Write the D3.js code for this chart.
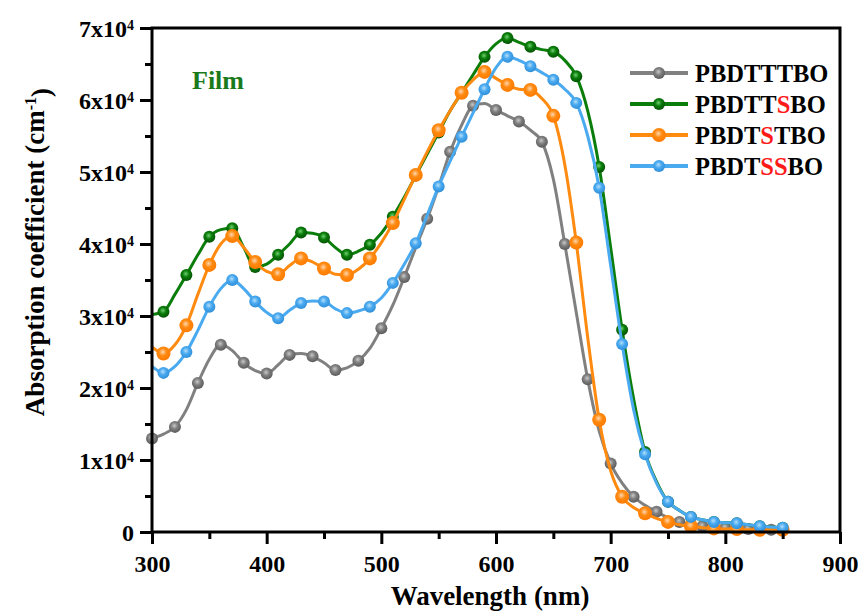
<!DOCTYPE html>
<html>
<head>
<meta charset="utf-8">
<script src="https://cdn.jsdelivr.net/npm/d3@7"></script>
<style>
  body { margin: 0; background: #fff; }
  svg text { font-family: "Liberation Serif", "Times New Roman", serif; font-weight: bold; }
</style>
</head>
<body>
<div id="chart"></div>
<script>
// Absorption spectra of films, values in units of 1e4 cm^-1, every 10 nm
const wavelengths = d3.range(300, 851, 10);

const PBDTTTBO = [1.30, 1.36, 1.46, 1.70, 2.07, 2.40, 2.60, 2.52, 2.35, 2.24,
  2.20, 2.32, 2.46, 2.48, 2.44, 2.35, 2.25, 2.28, 2.38, 2.55,
  2.83, 3.15, 3.54, 3.95, 4.35, 4.80, 5.28, 5.65, 5.92, 5.95,
  5.86, 5.78, 5.70, 5.58, 5.42, 4.90, 4.00, 3.05, 2.12, 1.40,
  0.95, 0.68, 0.49, 0.37, 0.28, 0.20, 0.14, 0.10, 0.08, 0.07,
  0.06, 0.05, 0.04, 0.04, 0.03, 0.03];

const PBDTTSBO = [3.02, 3.06, 3.30, 3.57, 3.85, 4.10, 4.20, 4.22, 3.95, 3.68,
  3.72, 3.85, 4.00, 4.16, 4.15, 4.09, 3.95, 3.85, 3.90, 3.99,
  4.15, 4.38, 4.65, 4.95, 5.25, 5.55, 5.85, 6.10, 6.35, 6.60,
  6.78, 6.86, 6.80, 6.74, 6.70, 6.67, 6.55, 6.33, 5.85, 5.07,
  3.95, 2.81, 1.85, 1.11, 0.70, 0.42, 0.30, 0.21, 0.17, 0.14,
  0.13, 0.12, 0.10, 0.08, 0.07, 0.06];

const PBDTSTBO = [2.57, 2.48, 2.60, 2.87, 3.30, 3.71, 4.00, 4.11, 3.95, 3.75,
  3.62, 3.58, 3.70, 3.80, 3.75, 3.66, 3.58, 3.57, 3.65, 3.80,
  4.02, 4.29, 4.62, 4.96, 5.28, 5.58, 5.85, 6.10, 6.28, 6.39,
  6.30, 6.21, 6.15, 6.14, 6.02, 5.78, 5.10, 4.02, 2.70, 1.56,
  0.85, 0.49, 0.34, 0.26, 0.19, 0.14, 0.10, 0.08, 0.06, 0.05,
  0.04, 0.04, 0.03, 0.03, 0.03, 0.03];

const PBDTSSBO = [2.30, 2.21, 2.30, 2.50, 2.80, 3.13, 3.38, 3.50, 3.38, 3.20,
  3.05, 2.97, 3.08, 3.18, 3.21, 3.20, 3.10, 3.04, 3.07, 3.13,
  3.25, 3.46, 3.72, 4.01, 4.40, 4.80, 5.15, 5.49, 5.82, 6.15,
  6.45, 6.60, 6.55, 6.47, 6.38, 6.28, 6.15, 5.96, 5.50, 4.78,
  3.70, 2.61, 1.70, 1.08, 0.68, 0.42, 0.30, 0.21, 0.17, 0.14,
  0.13, 0.12, 0.10, 0.08, 0.07, 0.06];

// legend label parts: [text, highlighted]
const series = [
  { name: "PBDTTTBO", values: PBDTTTBO, color: "#808080", dark: "#5a5a5a", light: "#c8c8c8", r: 6, offset: 0,
    label: [["PBDTTTBO", false]] },
  { name: "PBDTTSBO", values: PBDTTSBO, color: "#0a7d0a", dark: "#045204", light: "#6fcf6f", r: 6, offset: 1,
    label: [["PBDTT", false], ["S", true], ["BO", false]] },
  { name: "PBDTSTBO", values: PBDTSTBO, color: "#ff8a10", dark: "#ff7a00", light: "#ffd6b0", r: 7, offset: 1,
    label: [["PBDT", false], ["S", true], ["TBO", false]] },
  { name: "PBDTSSBO", values: PBDTSSBO, color: "#4aaaf0", dark: "#2f8ed8", light: "#b5def9", r: 6, offset: 1,
    label: [["PBDT", false], ["SS", true], ["BO", false]] }
];

const xTicks = [300, 400, 500, 600, 700, 800, 900];
const yTicks = [0, 1, 2, 3, 4, 5, 6, 7];

const W = 862, H = 612;
const margin = { top: 28, right: 22, bottom: 80, left: 152 };
const width = W - margin.left - margin.right;
const height = H - margin.top - margin.bottom;

const svg = d3.select("#chart").append("svg")
  .attr("width", W).attr("height", H);

const defs = svg.append("defs");
series.forEach((s, i) => {
  const g = defs.append("radialGradient").attr("id", "ball" + i)
    .attr("cx", "45%").attr("cy", "40%").attr("r", "60%");
  g.append("stop").attr("offset", "0%").attr("stop-color", s.light);
  g.append("stop").attr("offset", "45%").attr("stop-color", s.color);
  g.append("stop").attr("offset", "100%").attr("stop-color", s.dark);
});

const g = svg.append("g").attr("transform", `translate(${margin.left},${margin.top})`);

const x = d3.scaleLinear().domain([300, 900]).range([0, width]);
const y = d3.scaleLinear().domain([0, 7]).range([height, 0]);

// lines
const line = d3.line()
  .x((d, i) => x(wavelengths[i]))
  .y(d => y(d))
  .curve(d3.curveMonotoneX);

series.forEach((s, k) => {
  g.append("path")
    .datum(s.values)
    .attr("fill", "none")
    .attr("stroke", s.color)
    .attr("stroke-width", 3)
    .attr("d", line);
  g.append("g").selectAll("circle")
    .data(s.values.map((v, i) => [wavelengths[i], v]).filter((d, i) => i % 2 === s.offset))
    .join("circle")
    .attr("cx", d => x(d[0]))
    .attr("cy", d => y(d[1]))
    .attr("r", s.r)
    .attr("fill", `url(#ball${k})`);
});

// axes
const xMinor = d3.range(350, 900, 100);
const yMinor = d3.range(0.5, 7, 1);

const xAxis = g.append("g").attr("transform", `translate(0,${height})`)
  .call(d3.axisBottom(x).tickValues(xTicks).tickSize(12).tickFormat(d3.format("d")));
xAxis.select(".domain").remove();
xAxis.selectAll(".tick line").attr("stroke-width", 3);
xAxis.selectAll(".tick text").attr("font-size", 24).attr("fill", "#000").attr("dy", "1.05em")
  .attr("font-family", "Liberation Serif").attr("font-weight", "bold");

g.append("g").attr("transform", `translate(0,${height})`)
  .call(d3.axisBottom(x).tickValues(xMinor).tickSize(7).tickFormat(""))
  .call(a => a.select(".domain").remove())
  .selectAll(".tick line").attr("stroke-width", 3);

const yAxis = g.append("g")
  .call(d3.axisLeft(y).tickValues(yTicks).tickSize(12).tickFormat(""));
yAxis.select(".domain").remove();
yAxis.selectAll(".tick line").attr("stroke-width", 3);
yAxis.selectAll(".tick").each(function (d) {
  const t = d3.select(this).append("text")
    .attr("x", -18).attr("dy", "0.35em")
    .attr("text-anchor", "end").attr("font-size", 24).attr("fill", "#000");
  if (d === 0) {
    t.text("0");
  } else {
    t.append("tspan").text(d + "x10");
    t.append("tspan").attr("dy", "-0.5em").attr("font-size", 14).text("4");
  }
});

g.append("g")
  .call(d3.axisLeft(y).tickValues(yMinor).tickSize(7).tickFormat(""))
  .call(a => a.select(".domain").remove())
  .selectAll(".tick line").attr("stroke-width", 3);

// frame
g.append("rect")
  .attr("x", 0).attr("y", 0).attr("width", width).attr("height", height)
  .attr("fill", "none").attr("stroke", "#000").attr("stroke-width", 3);

// axis titles
g.append("text")
  .attr("x", width / 2 - 6).attr("y", height + 73)
  .attr("text-anchor", "middle").attr("font-size", 27).attr("fill", "#000")
  .text("Wavelength (nm)");

const yt = svg.append("text")
  .attr("transform", "translate(44,252) rotate(-90)")
  .attr("text-anchor", "middle").attr("font-size", 27).attr("fill", "#000");
yt.append("tspan").text("Absorption coefficient (cm");
yt.append("tspan").attr("dy", "-0.5em").attr("font-size", 16).text("-1");
yt.append("tspan").attr("dy", "0.5em").text(")");

// Film label
g.append("text")
  .attr("x", 40).attr("y", 61)
  .attr("font-size", 26).attr("fill", "#1b7a1b")
  .text("Film");

// legend
const legend = svg.append("g").attr("transform", "translate(630,73)");
series.forEach((s, i) => {
  const row = legend.append("g").attr("transform", `translate(0,${i * 31})`);
  row.append("line").attr("x1", 0).attr("x2", 58).attr("y1", 0).attr("y2", 0)
    .attr("stroke", s.color).attr("stroke-width", 4);
  row.append("circle").attr("cx", 29).attr("cy", 0).attr("r", s.r)
    .attr("fill", `url(#ball${i})`);
  const t = row.append("text").attr("x", 65).attr("dy", "0.35em")
    .attr("font-size", 24.5).attr("fill", "#000");
  s.label.forEach(([txt, hi]) => t.append("tspan").attr("fill", hi ? "#ff1a1a" : "#000").text(txt));
});
</script>
</body>
</html>
